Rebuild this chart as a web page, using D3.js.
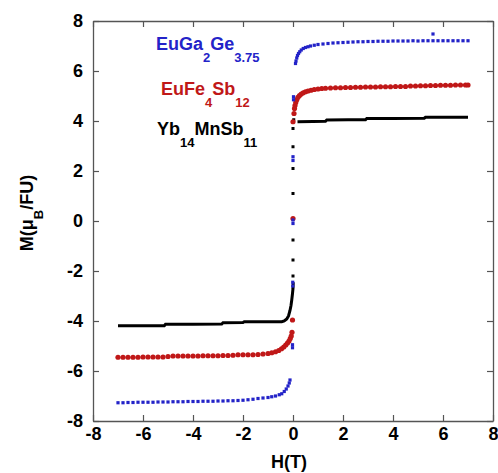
<!DOCTYPE html>
<html>
<head>
<meta charset="utf-8">
<script src="https://cdn.jsdelivr.net/npm/d3@7"></script>
<style>
  html, body { margin: 0; padding: 0; background: #fff; }
  svg { display: block; }
  text { font-family: "Liberation Sans", Arial, Helvetica, sans-serif; font-weight: bold; }
</style>
</head>
<body>
<svg id="chart" width="498" height="473"></svg>
<script>
// ---- data ----
const xTicks = [-8, -6, -4, -2, 0, 2, 4, 6, 8];
const yTicks = [-8, -6, -4, -2, 0, 2, 4, 6, 8];

// EuGa2Ge3.75 (blue squares)
const euGaGePos = [[0.1,6.3],[0.12,6.4],[0.15,6.52],[0.18,6.62],[0.22,6.7],[0.27,6.77],[0.33,6.84],[0.41,6.9],[0.5,6.94],[0.6,6.97],[0.7,7.0],[0.85,7.03],[1.0,7.06],[1.2,7.08],[1.4,7.1],[1.6,7.12],[1.8,7.13],[2.0,7.14],[2.2,7.15],[2.4,7.16],[2.6,7.17],[2.8,7.17],[3.0,7.18],[3.2,7.18],[3.4,7.19],[3.6,7.19],[3.8,7.19],[4.0,7.2],[4.2,7.2],[4.4,7.2],[4.6,7.2],[4.8,7.21],[5.0,7.2],[5.2,7.21],[5.4,7.21],[5.6,7.21],[5.6,7.48],[5.8,7.21],[6.0,7.21],[6.2,7.21],[6.4,7.21],[6.6,7.21],[6.8,7.21],[7.0,7.21]];
const euGaGeNeg = [[-7.0,-7.27],[-6.8,-7.27],[-6.6,-7.26],[-6.4,-7.26],[-6.2,-7.25],[-6.0,-7.25],[-5.8,-7.25],[-5.6,-7.25],[-5.4,-7.24],[-5.2,-7.24],[-5.0,-7.24],[-4.8,-7.23],[-4.6,-7.23],[-4.4,-7.23],[-4.2,-7.22],[-4.0,-7.22],[-3.8,-7.22],[-3.6,-7.21],[-3.4,-7.21],[-3.2,-7.21],[-3.0,-7.2],[-2.8,-7.2],[-2.6,-7.19],[-2.4,-7.19],[-2.2,-7.18],[-2.0,-7.17],[-1.8,-7.15],[-1.6,-7.13],[-1.4,-7.1],[-1.2,-7.08],[-1.0,-7.06],[-0.85,-7.03],[-0.7,-7.0],[-0.55,-6.95],[-0.45,-6.91],[-0.35,-6.82],[-0.27,-6.72],[-0.2,-6.6],[-0.15,-6.48],[-0.12,-6.36]];
const euGaGeZero = [[0.02,4.97],[0.02,4.85],[0,2.57],[0,2.42],[0,0.04],[0,-0.1],[-0.01,-2.45],[-0.01,-2.6],[-0.02,-4.95],[-0.02,-5.07]];

// EuFe4Sb12 (red circles)
const euFeSbPos = [[0.04,4.3],[0.06,4.5],[0.08,4.62],[0.11,4.74],[0.15,4.85],[0.2,4.95],[0.26,5.02],[0.33,5.08],[0.41,5.13],[0.5,5.17],[0.6,5.2],[0.72,5.23],[0.85,5.26],[1.0,5.28],[1.15,5.3],[1.3,5.31],[1.5,5.32],[1.7,5.33],[1.9,5.33],[2.1,5.34],[2.3,5.34],[2.5,5.35],[2.7,5.35],[2.9,5.36],[3.1,5.36],[3.3,5.36],[3.5,5.37],[3.7,5.37],[3.9,5.37],[4.1,5.38],[4.3,5.38],[4.5,5.38],[4.7,5.4],[4.9,5.4],[5.1,5.41],[5.3,5.41],[5.5,5.42],[5.7,5.42],[5.9,5.43],[6.1,5.43],[6.3,5.43],[6.5,5.44],[6.7,5.44],[6.9,5.44],[7.0,5.44]];
const euFeSbNeg = [[-7.0,-5.45],[-6.8,-5.45],[-6.6,-5.45],[-6.4,-5.45],[-6.2,-5.45],[-6.0,-5.44],[-5.8,-5.44],[-5.6,-5.44],[-5.4,-5.44],[-5.2,-5.44],[-5.0,-5.42],[-4.8,-5.4],[-4.6,-5.4],[-4.4,-5.4],[-4.2,-5.4],[-4.0,-5.4],[-3.8,-5.4],[-3.6,-5.39],[-3.4,-5.39],[-3.2,-5.39],[-3.0,-5.39],[-2.8,-5.38],[-2.6,-5.38],[-2.4,-5.37],[-2.2,-5.35],[-2.0,-5.35],[-1.8,-5.35],[-1.6,-5.35],[-1.4,-5.34],[-1.2,-5.32],[-1.0,-5.3],[-0.85,-5.27],[-0.7,-5.23],[-0.57,-5.18],[-0.46,-5.11],[-0.37,-5.04],[-0.29,-4.96],[-0.22,-4.88],[-0.16,-4.8],[-0.11,-4.7],[-0.07,-4.6],[-0.04,-4.45]];
const euFeSbZero = [[0,3.97],[0,0.1],[-0.02,-3.96]];

// Yb14MnSb11 (black line + dots)
const ybMnSbNeg = [[-7.0,-4.19],[-6.0,-4.19],[-5.15,-4.19],[-5.1,-4.13],[-4.0,-4.13],[-2.85,-4.12],[-2.8,-4.07],[-2.0,-4.06],[-1.95,-4.03],[-1.0,-4.03],[-0.45,-4.03],[-0.35,-4.0],[-0.25,-3.92],[-0.18,-3.8],[-0.12,-3.58],[-0.08,-3.38],[-0.05,-3.16],[-0.02,-2.9],[0.0,-2.7],[0.01,-2.45]];
const ybMnSbPos = [[0.18,3.97],[0.8,3.98],[1.3,3.99],[1.35,4.04],[2.2,4.05],[2.9,4.05],[2.95,4.1],[4.0,4.1],[5.25,4.11],[5.3,4.15],[6.0,4.15],[7.0,4.15]];
const ybMnSbZero = [[0.03,4.05],[0,3.7],[0,2.97],[0,2.1],[0,1.1],[0,-0.76],[0,-1.56],[0,-2.2]];

// ---- layout ----
const svg = d3.select("#chart");
const L = 93, R = 493, T = 21, B = 421;
const x = d3.scaleLinear().domain([-8, 8]).range([L, R]);
const y = d3.scaleLinear().domain([-8, 8]).range([B, T]);
const axisColor = "#555";
const BLUE = "#2323c8", RED = "#c01818", BLACK = "#000";

function styleAxis(g) {
  g.select(".domain").attr("stroke", axisColor).attr("stroke-width", 1.3);
  g.selectAll(".tick line").attr("stroke", axisColor).attr("stroke-width", 1.2);
  g.selectAll(".tick text").attr("fill", "#000").style("font-size", "18px")
    .style("font-family", '"Liberation Sans", Arial, sans-serif').style("font-weight", "bold");
}
const fmt = d => (d < 0 ? "-" + Math.abs(d) : String(d));

svg.append("g").attr("transform", `translate(0,${B})`)
  .call(d3.axisBottom(x).tickValues(xTicks).tickFormat(fmt).tickSizeInner(-6).tickSizeOuter(0).tickPadding(6))
  .call(styleAxis);
svg.append("g").attr("transform", `translate(0,${T})`)
  .call(d3.axisTop(x).tickValues(xTicks).tickFormat("").tickSizeInner(-6).tickSizeOuter(0))
  .call(styleAxis);
svg.append("g").attr("transform", `translate(${L},0)`)
  .call(d3.axisLeft(y).tickValues(yTicks).tickFormat(fmt).tickSizeInner(-6).tickSizeOuter(0).tickPadding(10))
  .call(styleAxis);
svg.append("g").attr("transform", `translate(${R},0)`)
  .call(d3.axisRight(y).tickValues(yTicks).tickFormat("").tickSizeInner(-6).tickSizeOuter(0))
  .call(styleAxis);
svg.selectAll(".tick text").attr("font-size", null);

// ---- marks ----
const line = d3.line().x(d => x(d[0])).y(d => y(d[1]));
const plot = svg.append("g");

[ybMnSbNeg, ybMnSbPos].forEach(s => {
  plot.append("path").datum(s).attr("d", line)
    .attr("fill", "none").attr("stroke", BLACK).attr("stroke-width", 3);
});
plot.selectAll("rect.yb").data(ybMnSbZero).join("rect").attr("class", "yb")
  .attr("x", d => x(d[0]) - 1.5).attr("y", d => y(d[1]) - 1.5)
  .attr("width", 3).attr("height", 3).attr("fill", BLACK);

plot.selectAll("circle.fe").data(euFeSbNeg.concat(euFeSbPos, euFeSbZero)).join("circle").attr("class", "fe")
  .attr("cx", d => x(d[0])).attr("cy", d => y(d[1])).attr("r", 2.6).attr("fill", RED);

plot.selectAll("rect.ga").data(euGaGeNeg.concat(euGaGePos, euGaGeZero)).join("rect").attr("class", "ga")
  .attr("x", d => x(d[0]) - 1.6).attr("y", d => y(d[1]) - 1.6)
  .attr("width", 3.2).attr("height", 3.2).attr("fill", BLUE);

// ---- legend labels ----
function formula(xp, yp, parts, color) {
  const t = svg.append("text").attr("x", xp).attr("y", yp).attr("fill", color).style("font-size", "18px");
  let sub = false;
  parts.forEach((p, i) => {
    const isSub = i % 2 === 1;
    const ts = t.append("tspan").text(p);
    if (isSub) ts.style("font-size", "13px").attr("dy", 12);
    else { ts.style("font-size", "18px"); if (i > 0) ts.attr("dy", -12); }
  });
}
formula(156, 50, ["EuGa", "2", "Ge", "3.75"], BLUE);
formula(161, 95, ["EuFe", "4", "Sb", "12"], RED);
formula(157, 135, ["Yb", "14", "MnSb", "11"], BLACK);

// ---- axis titles ----
svg.append("text").attr("x", 289).attr("y", 468).attr("text-anchor", "middle")
  .style("font-size", "18px").text("H(T)");
const yt = svg.append("text").attr("transform", "translate(33,213) rotate(-90)")
  .attr("text-anchor", "middle").style("font-size", "18px");
yt.append("tspan").text("M(μ");
yt.append("tspan").text("B").style("font-size", "13px").attr("dy", 10);
yt.append("tspan").text("/FU)").attr("dy", -10);
</script>
</body>
</html>
